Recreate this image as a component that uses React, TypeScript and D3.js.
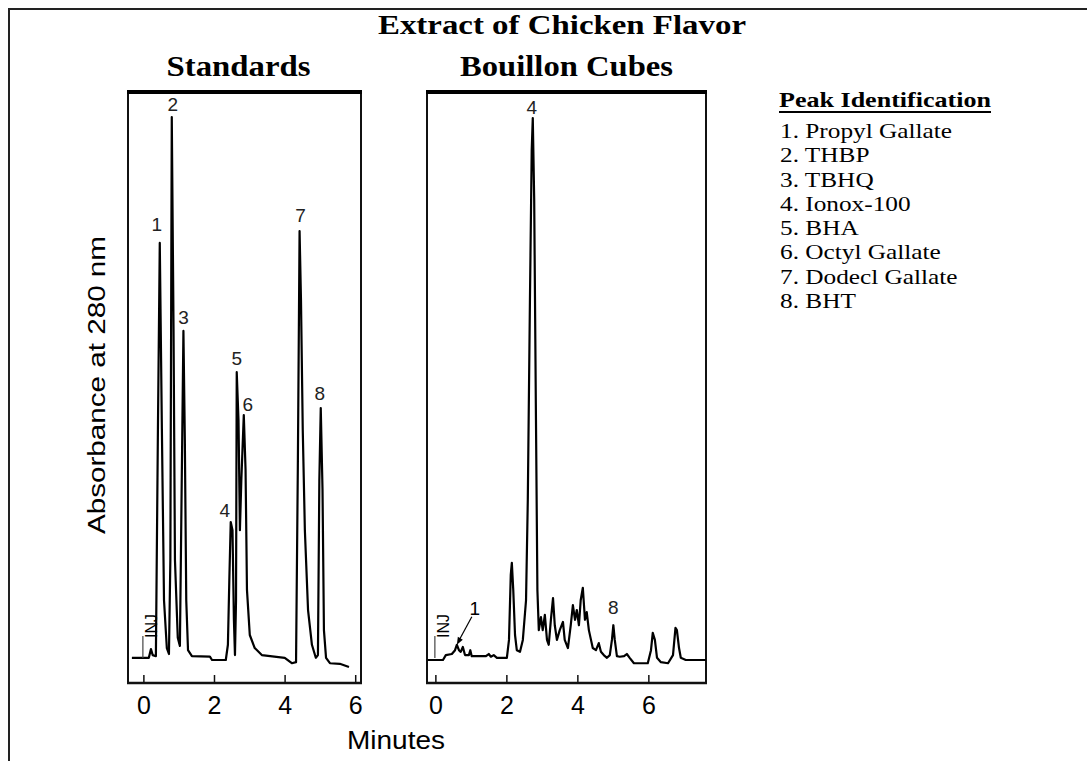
import { useEffect, useRef } from "react";
import * as d3 from "d3";

// chromatogram traces, [minutes, absorbance units]
const standardsTrace: [number, number][] = [
  [-0.34, 0.4], [0.14, 0.4], [0.2, 2.0], [0.25, 0.9], [0.34, 0.7],
  [0.4, 44.2], [0.45, 76.8], [0.51, 42.4], [0.57, 11.0], [0.65, 2.2], [0.71, 1.1],
  [0.75, 18.4], [0.79, 100], [0.84, 60.8], [0.88, 18.4], [0.96, 4.1], [1.02, 2.6],
  [1.06, 25.8], [1.12, 60.6], [1.16, 40.5], [1.2, 11.0], [1.25, 1.8], [1.36, 0.7],
  [1.87, 0.6], [1.93, 0], [2.32, 0],
  [2.38, 2.8], [2.42, 14.7], [2.46, 25.4], [2.51, 23.9], [2.55, 7.4], [2.58, 0.9],
  [2.61, 11.0], [2.63, 53.0], [2.68, 44.2], [2.72, 23.9], [2.76, 33.1], [2.83, 45.1],
  [2.88, 35.0], [2.92, 12.9], [3.0, 4.6], [3.14, 2.2], [3.34, 0.9], [3.99, 0.4],
  [4.19, -0.6], [4.31, -0.4],
  [4.36, 35.0], [4.41, 79.0], [4.45, 66.3], [4.5, 42.4], [4.56, 23.9], [4.65, 9.2],
  [4.76, 2.8], [4.87, 0.4], [4.93, 0.9],
  [4.97, 33.1], [5.01, 46.4], [5.06, 31.3], [5.1, 5.5], [5.16, 0.4],
  [5.27, -0.6], [5.55, -0.7], [5.81, -1.3],
];

const cubesTrace: [number, number][] = [
  [-0.23, 0], [0.2, 0], [0.28, 0.9], [0.45, 1.1], [0.54, 1.8], [0.59, 2.8],
  [0.65, 1.8], [0.7, 1.5], [0.76, 2.4], [0.82, 0.9], [0.93, 0.9], [0.97, 1.8],
  [1.01, 0.7], [1.41, 0.7], [1.49, 1.1], [1.55, 0.6], [1.63, 0.9], [1.72, 0.4],
  [2.0, 0.4], [2.06, 3.7], [2.11, 15.7], [2.14, 17.9], [2.18, 12.9], [2.23, 4.6],
  [2.28, 1.8], [2.37, 1.5], [2.45, 3.7], [2.54, 11.0], [2.59, 29.5], [2.65, 66.3],
  [2.7, 93.9], [2.73, 99.8], [2.77, 84.7], [2.82, 44.2], [2.86, 12.9], [2.9, 5.5],
  [2.96, 7.9], [3.01, 5.5], [3.07, 8.3], [3.13, 3.7], [3.18, 2.8], [3.24, 7.4],
  [3.3, 11.4], [3.35, 6.4], [3.41, 3.7], [3.49, 5.5], [3.58, 7.0], [3.63, 3.7],
  [3.72, 2.2], [3.8, 6.4], [3.86, 10.1], [3.92, 7.4], [3.97, 9.2], [4.03, 6.4],
  [4.08, 11.0], [4.14, 13.3], [4.2, 7.4], [4.25, 8.8], [4.31, 5.5], [4.37, 3.7],
  [4.42, 2.2], [4.51, 1.8], [4.59, 3.1], [4.65, 1.5], [4.73, 0.9], [4.82, 0.4],
  [4.9, 0.9], [4.96, 3.7], [5.0, 6.4], [5.04, 3.7], [5.1, 0.7], [5.18, 0.6],
  [5.3, 0.7], [5.38, 1.1], [5.46, 0.4], [5.58, -0.6], [5.97, -0.6], [6.06, 1.8],
  [6.11, 5.0], [6.17, 3.7], [6.23, 0.4], [6.34, -0.4], [6.54, -0.6], [6.68, 0.9],
  [6.75, 5.9], [6.79, 5.5], [6.85, 2.2], [6.9, 0.4], [7.04, 0], [7.61, 0],
];

// peak labels: id, apex time, apex absorbance
const standardsPeaks = [
  { id: "1", time: 0.45, abs: 76.8 },
  { id: "2", time: 0.79, abs: 100 },
  { id: "3", time: 1.12, abs: 60.6 },
  { id: "4", time: 2.46, abs: 25.4 },
  { id: "5", time: 2.63, abs: 53.0 },
  { id: "6", time: 2.83, abs: 45.1 },
  { id: "7", time: 4.41, abs: 79.0 },
  { id: "8", time: 5.01, abs: 46.4 },
];
const cubesPeaks = [
  { id: "4", time: 2.73, abs: 99.8 },
  { id: "8", time: 5.0, abs: 6.4 },
];
const cubesArrowPeak = { id: "1", time: 0.59, abs: 2.8 };

const xTicks = [0, 2, 4, 6];
const peakNames = [
  "Propyl Gallate", "THBP", "TBHQ", "Ionox-100",
  "BHA", "Octyl Gallate", "Dodecl Gallate", "BHT",
];

const labelOffset: Record<string, [number, number]> = {
  "1": [-3, -18], "2": [1, -12], "3": [0, -13], "4": [-6, -12],
  "5": [0, -14], "6": [4, -11], "7": [1, -16], "8": [-1, -15],
};

export default function App() {
  const ref = useRef<SVGSVGElement>(null);

  useEffect(() => {
    const svg = d3.select(ref.current);
    svg.selectAll("*").remove();

    const width = 1087;
    const height = 761;
    const top = 92;
    const bottom = 683;
    const sans = "Arial, 'Liberation Sans', Helvetica, sans-serif";
    const serif = "'Times New Roman', 'Liberation Serif', serif";

    svg.attr("width", width).attr("height", height);
    svg.append("rect").attr("width", width).attr("height", height).attr("fill", "#fff");

    // outer frame (top and left only)
    svg.append("path")
      .attr("d", `M9,${height} L9,9 L${width},9`)
      .attr("fill", "none").attr("stroke", "#222").attr("stroke-width", 2);

    const y = d3.scaleLinear().domain([-4.24, 104.6]).range([bottom, top]);

    const panels = [
      { trace: standardsTrace, peaks: standardsPeaks, domain: [-0.45, 6.15], range: [128, 361], title: "Standards", offsets: labelOffset },
      { trace: cubesTrace, peaks: cubesPeaks, domain: [-0.25, 7.61], range: [427, 706], title: "Bouillon Cubes", offsets: { "4": [-1, -11], "8": [0, -18] } as Record<string, [number, number]> },
    ];

    panels.forEach((p, pi) => {
      const x = d3.scaleLinear().domain(p.domain).range(p.range);
      const g = svg.append("g");
      const [x0, x1] = p.range;

      // box
      g.append("line").attr("x1", x0).attr("x2", x0).attr("y1", top).attr("y2", bottom)
        .attr("stroke", "#111").attr("stroke-width", 2);
      g.append("line").attr("x1", x1).attr("x2", x1).attr("y1", top).attr("y2", bottom)
        .attr("stroke", "#111").attr("stroke-width", 2);
      g.append("line").attr("x1", x0 - 1).attr("x2", x1 + 1).attr("y1", top).attr("y2", top)
        .attr("stroke", "#000").attr("stroke-width", 4);
      g.append("line").attr("x1", x0 - 1).attr("x2", x1 + 1).attr("y1", bottom).attr("y2", bottom)
        .attr("stroke", "#111").attr("stroke-width", 2.5);

      // ticks
      g.selectAll("line.tick").data(xTicks).join("line").attr("class", "tick")
        .attr("x1", d => x(d)).attr("x2", d => x(d))
        .attr("y1", bottom).attr("y2", bottom - 8)
        .attr("stroke", "#111").attr("stroke-width", 1.5);
      g.selectAll("text.tl").data(xTicks).join("text").attr("class", "tl")
        .attr("x", d => x(d)).attr("y", bottom + 31)
        .attr("text-anchor", "middle")
        .attr("font-family", sans).attr("font-size", 25)
        .text(d => d);

      // trace
      const line = d3.line<[number, number]>().x(d => x(d[0])).y(d => y(d[1]));
      g.append("path").datum(p.trace).attr("d", line)
        .attr("fill", "none").attr("stroke", "#000").attr("stroke-width", 2.2)
        .attr("stroke-linejoin", "round");

      // peak labels
      g.selectAll("text.pk").data(p.peaks).join("text").attr("class", "pk")
        .attr("x", d => x(d.time) + p.offsets[d.id][0])
        .attr("y", d => y(d.abs) + p.offsets[d.id][1])
        .attr("text-anchor", "middle").attr("dominant-baseline", "central")
        .attr("font-family", sans).attr("font-size", 19).attr("fill", "#222")
        .text(d => d.id);

      // INJ marker
      const ix = x(0);
      g.append("line").attr("x1", ix - 1).attr("x2", ix - 1).attr("y1", y(0) - 2).attr("y2", y(0) - 24)
        .attr("stroke", "#444").attr("stroke-width", 1.2);
      g.append("text")
        .attr("transform", `translate(${ix + 8},${y(0) - 22}) rotate(-90)`)
        .attr("dominant-baseline", "central")
        .attr("font-family", sans).attr("font-size", 16)
        .text("INJ");

      // panel title
      svg.append("text").attr("x", (x0 + x1) / 2 + (pi === 0 ? -6 : 0)).attr("y", 76)
        .attr("text-anchor", "middle")
        .attr("font-family", serif).attr("font-weight", "bold").attr("font-size", 29)
        .attr("textLength", pi === 0 ? 144 : 213).attr("lengthAdjust", "spacingAndGlyphs")
        .text(p.title);

      if (pi === 1) {
        const ax = x(cubesArrowPeak.time);
        const ay = y(cubesArrowPeak.abs);
        g.append("line").attr("x1", ax + 15).attr("y1", ay - 28).attr("x2", ax + 2).attr("y2", ay - 4)
          .attr("stroke", "#000").attr("stroke-width", 1.2);
        g.append("path")
          .attr("d", `M${ax},${ay} l1,-8 l5,3 z`)
          .attr("fill", "#000");
        g.append("text").attr("x", ax + 18).attr("y", ay - 36)
          .attr("text-anchor", "middle").attr("dominant-baseline", "central")
          .attr("font-family", sans).attr("font-size", 19)
          .text(cubesArrowPeak.id);
      }
    });

    // main title
    svg.append("text").attr("x", 562).attr("y", 34).attr("text-anchor", "middle")
      .attr("font-family", serif).attr("font-weight", "bold").attr("font-size", 27)
      .attr("textLength", 368).attr("lengthAdjust", "spacingAndGlyphs")
      .text("Extract of Chicken Flavor");

    // axis titles
    svg.append("text")
      .attr("transform", `translate(105,385) rotate(-90)`)
      .attr("text-anchor", "middle")
      .attr("font-family", sans).attr("font-size", 23)
      .attr("textLength", 298).attr("lengthAdjust", "spacingAndGlyphs")
      .text("Absorbance at 280 nm");
    svg.append("text").attr("x", 396).attr("y", 749).attr("text-anchor", "middle")
      .attr("font-family", sans).attr("font-size", 25)
      .attr("textLength", 98).attr("lengthAdjust", "spacingAndGlyphs")
      .text("Minutes");

    // peak identification legend
    const lg = svg.append("g").attr("transform", "translate(779,0)");
    lg.append("text").attr("x", 0).attr("y", 107)
      .attr("font-family", serif).attr("font-weight", "bold").attr("font-size", 22)
      .attr("textLength", 212).attr("lengthAdjust", "spacingAndGlyphs")
      .text("Peak Identification");
    lg.append("line").attr("x1", 0).attr("x2", 212).attr("y1", 112).attr("y2", 112)
      .attr("stroke", "#000").attr("stroke-width", 2);
    const items = svg.append("g").attr("transform", "translate(780,0) scale(1.15,1)");
    items.selectAll("text.item").data(peakNames).join("text").attr("class", "item")
      .attr("x", 0).attr("y", (d, i) => 138 + i * 24.3)
      .attr("font-family", serif).attr("font-size", 22)
      .text((d, i) => `${i + 1}. ${d}`);
  }, []);

  return <svg ref={ref} style={{ position: "absolute", left: 0, top: 0 }}></svg>;
}
